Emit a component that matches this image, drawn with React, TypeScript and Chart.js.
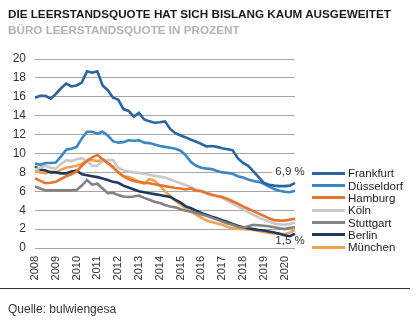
import React, { useEffect, useRef } from "react";
import { Chart, registerables } from "chart.js";

Chart.register(...registerables);

const years = ["2008","2009","2010","2011","2012","2013","2014","2015","2016","2017","2018","2019","2020"];
const quarterLabels = years.flatMap((y) => [y, y + " Q2", y + " Q3", y + " Q4"]).slice(0, 51);

const frankfurt = [15.9,16.1,16.1,15.8,16.3,16.9,17.4,17.1,17.2,17.5, 18.7,18.55,18.7,17.2,16.7,15.9,15.7,14.7,14.5,13.9, 14.3,13.6,13.4,13.25,13.3,13.4,12.6,12.15,11.9,11.7, 11.45,11.25,11.0,10.75,10.8,10.7,10.55,10.45,10.35,9.5, 9.0,8.7,8.1,7.5,6.9,6.7,6.6,6.55,6.55,6.6, 6.9];
const duesseldorf = [8.95,8.8,9.0,9.0,9.05,9.7,10.4,10.5,10.7,11.6, 12.3,12.3,12.1,12.3,11.9,11.3,11.15,11.2,11.4,11.35, 11.4,11.15,11.1,10.95,10.8,10.7,10.6,10.5,10.3,9.8, 9.1,8.7,8.5,8.4,8.35,8.15,8.0,7.95,7.85,7.6, 7.45,7.25,7.1,7.0,6.8,6.5,6.25,6.05,5.95,5.9, 6.05];
const hamburg = [7.4,7.1,6.85,6.9,7.0,7.3,7.6,7.8,8.1,8.7, 9.2,9.6,9.85,9.4,9.0,8.6,8.0,7.6,7.3,7.1, 7.0,6.9,6.85,6.75,6.65,6.55,6.45,6.35,6.3,6.2, 6.3,6.05,6.0,5.8,5.6,5.5,5.4,5.2,4.95,4.7, 4.4,4.15,3.9,3.65,3.4,3.15,2.95,2.9,2.9,3.0, 3.1];
const koeln = [8.3,8.5,8.7,8.5,8.4,8.9,9.3,9.2,9.4,9.5, 9.2,8.7,8.7,9.2,9.3,9.3,8.5,8.2,8.1,8.0, 7.95,7.85,7.75,7.65,7.55,7.45,7.25,7.05,6.85,6.65, 6.45,6.2,6.05,5.9,5.7,5.5,5.3,5.0,4.7,4.4, 4.1,3.8,3.5,3.25,3.0,2.8,2.6,2.5,2.45,2.55, 2.7];
const stuttgart = [6.5,6.3,6.1,6.1,6.1,6.1,6.1,6.1,6.15,6.6, 7.2,6.7,6.8,6.3,5.8,5.85,5.6,5.45,5.4,5.45, 5.55,5.3,5.1,4.9,4.75,4.55,4.4,4.3,4.1,3.95, 3.85,3.7,3.55,3.4,3.2,3.0,2.8,2.6,2.45,2.25, 2.15,2.3,2.45,2.4,2.35,2.3,2.2,2.1,2.0,2.15, 2.2];
const berlin = [8.6,8.3,8.2,8.0,8.0,7.9,7.9,8.1,8.2,7.8, 7.7,7.6,7.5,7.35,7.2,7.0,6.9,6.6,6.4,6.2, 6.0,5.9,5.8,5.7,5.6,5.5,5.4,5.1,4.8,4.4, 4.2,3.95,3.7,3.5,3.3,3.15,2.95,2.75,2.55,2.35, 2.2,2.1,2.0,1.9,1.85,1.75,1.65,1.5,1.35,1.25, 1.5];
const muenchen = [8.2,8.0,7.9,8.1,8.0,8.3,8.5,8.6,8.7,8.9, 9.3,9.3,9.2,9.3,9.0,8.5,8.0,7.6,7.5,7.3, 7.0,6.8,7.3,7.1,6.6,6.0,5.5,5.0,4.6,4.2, 3.85,3.5,3.2,2.9,2.75,2.6,2.45,2.25,2.1,2.05, 2.0,1.95,1.9,1.8,1.7,1.6,1.55,1.5,1.45,1.65, 1.9];

const seriesNames = ["Frankfurt", "Düsseldorf", "Hamburg", "Köln", "Stuttgart", "Berlin", "München"];
const seriesData = [frankfurt, duesseldorf, hamburg, koeln, stuttgart, berlin, muenchen];
const seriesColors = ["#2b64a3", "#3a86c6", "#e8732d", "#c9c9c9", "#828282", "#1f3a5c", "#f2a253"];
const annotatedSeries = ["Frankfurt", "Berlin"];

const yTicks = [0, 2, 4, 6, 8, 10, 12, 14, 16, 18, 20];

const FONT = "'Liberation Sans', Arial, sans-serif";

const fmt = (v: number) => v.toFixed(1).replace(".", ",") + " %";

const endLabelPlugin = {
  id: "endLabels",
  afterDatasetsDraw(chart: any) {
    const ctx = chart.ctx;
    ctx.save();
    ctx.font = "11.5px " + FONT;
    ctx.textAlign = "center";
    ctx.textBaseline = "middle";
    chart.data.datasets.forEach((ds: any, i: number) => {
      if (!annotatedSeries.includes(ds.label)) return;
      const meta = chart.getDatasetMeta(i);
      const pt = meta.data[meta.data.length - 1];
      const val = ds.data[ds.data.length - 1];
      const above = ds.label === "Frankfurt";
      const x = pt.x - 5;
      const y = above ? pt.y - 11 : pt.y + 7.5;
      const text = fmt(val);
      const w = ctx.measureText(text).width;
      if (above) {
        ctx.fillStyle = "#ffffff";
        ctx.fillRect(x - w / 2 - 3, y - 5, w + 6, 10);
      }
      ctx.fillStyle = "#333333";
      ctx.fillText(text, x, y);
    });
    ctx.restore();
  },
};

function LineChart() {
  const ref = useRef<HTMLCanvasElement | null>(null);
  useEffect(() => {
    if (!ref.current) return;
    const chart = new Chart(ref.current, {
      type: "line",
      data: {
        labels: quarterLabels,
        datasets: seriesNames.map((name, i) => ({
          label: name,
          data: seriesData[i],
          borderColor: seriesColors[i],
          backgroundColor: seriesColors[i],
          borderWidth: 2.6,
          pointRadius: 0,
          tension: 0,
          fill: false,
        })),
      },
      options: {
        animation: false,
        responsive: false,
        maintainAspectRatio: false,
        layout: { padding: { top: 59, right: 123, bottom: 0, left: 0 } },
        plugins: {
          legend: { display: false },
          tooltip: { enabled: false },
          title: { display: false },
        },
        scales: {
          x: {
            type: "category",
            offset: false,
            grid: { display: false, drawTicks: false },
            border: { display: false },
            ticks: {
              autoSkip: false,
              maxRotation: 90,
              minRotation: 90,
              padding: 8,
              color: "#333333",
              font: { family: FONT, size: 11 },
              callback: (_v: any, idx: number) => (idx % 4 === 0 ? years[idx / 4] : null),
            },
            afterFit: (scale: any) => {
              scale.height = 42;
            },
          },
          y: {
            min: 0,
            max: 20,
            afterBuildTicks: (scale: any) => {
              scale.ticks = yTicks.map((v) => ({ value: v }));
            },
            grid: { color: "#a6a6a6", lineWidth: 1, drawTicks: false },
            border: { display: false },
            ticks: {
              padding: 9,
              color: "#333333",
              font: { family: FONT, size: 12 },
            },
            afterFit: (scale: any) => {
              scale.width = 35;
            },
          },
        },
      },
      plugins: [endLabelPlugin],
    });
    return () => chart.destroy();
  }, []);
  return <canvas ref={ref} width={418} height={290} style={{ position: "absolute", left: 0, top: 0, width: 418, height: 290 }} />;
}

export default function App() {
  useEffect(() => {
    document.body.style.margin = "0";
  }, []);
  const legendTop = 173.3;
  const legendStep = 12.3;
  return (
    <div style={{ position: "relative", width: 418, height: 333, fontFamily: FONT, background: "#fff", overflow: "hidden" }}>
      <LineChart />
      <div style={{ position: "absolute", left: 8, top: 7, fontSize: 11.7, fontWeight: "bold", color: "#1a1a1a", whiteSpace: "nowrap", lineHeight: "14px" }}>
        DIE LEERSTANDSQUOTE HAT SICH BISLANG KAUM AUSGEWEITET
      </div>
      <div style={{ position: "absolute", left: 8, top: 23, fontSize: 11.7, fontWeight: "bold", color: "#b3b3b3", whiteSpace: "nowrap", lineHeight: "14px" }}>
        BÜRO LEERSTANDSQUOTE IN PROZENT
      </div>
      {seriesNames.map((name, i) => (
        <React.Fragment key={name}>
          <div style={{ position: "absolute", left: 312, top: legendTop + i * legendStep - 1.5, width: 33, height: 3, background: seriesColors[i] }} />
          <div style={{ position: "absolute", left: 348, top: legendTop + i * legendStep - 7, fontSize: 11.5, lineHeight: "14px", color: "#222", whiteSpace: "nowrap" }}>
            {name}
          </div>
        </React.Fragment>
      ))}
      <div style={{ position: "absolute", left: 0, top: 288, width: 410, height: 1, background: "#333" }} />
      <div style={{ position: "absolute", left: 8, top: 302, fontSize: 12, color: "#333", whiteSpace: "nowrap", lineHeight: "14px" }}>
        Quelle: bulwiengesa
      </div>
    </div>
  );
}
